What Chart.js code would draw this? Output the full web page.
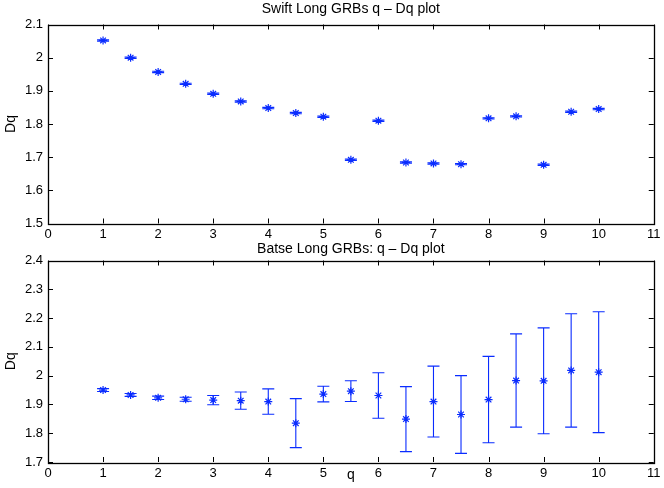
<!DOCTYPE html>
<html>
<head>
<meta charset="utf-8">
<script src="https://cdn.jsdelivr.net/npm/chart.js@4/dist/chart.umd.min.js"></script>
<style>
  body { margin: 0; background: #fff; }
  #wrap { position: relative; width: 664px; height: 488px; }
  canvas { position: absolute; left: 0; }
</style>
</head>
<body>
<div id="wrap">
  <canvas id="swift" width="664" height="244" style="top:0;width:664px;height:244px"></canvas>
  <canvas id="batse" width="664" height="248" style="top:240px;width:664px;height:248px"></canvas>
</div>
<script>
const qValues = [1, 1.5, 2, 2.5, 3, 3.5, 4, 4.5, 5, 5.5, 6, 6.5, 7, 7.5, 8, 8.5, 9, 9.5, 10];

// Swift: Dq and (very small) errors
const swiftDq  = [2.052, 2.000, 1.957, 1.921, 1.891, 1.868, 1.848, 1.833, 1.822, 1.692,
                  1.810, 1.684, 1.681, 1.679, 1.817, 1.823, 1.677, 1.837, 1.845];
const swiftErr = [0.002, 0.002, 0.002, 0.002, 0.002, 0.002, 0.002, 0.002, 0.002, 0.002,
                  0.002, 0.002, 0.002, 0.002, 0.002, 0.002, 0.002, 0.002, 0.002];

// Batse: Dq and errors
const batseDq  = [1.950, 1.933, 1.923, 1.918, 1.915, 1.913, 1.910, 1.835, 1.936, 1.946,
                  1.931, 1.849, 1.910, 1.865, 1.917, 1.983, 1.982, 2.018, 2.012];
const batseErr = [0.005, 0.005, 0.006, 0.007, 0.016, 0.030, 0.044, 0.085, 0.027, 0.036,
                  0.079, 0.113, 0.123, 0.135, 0.150, 0.162, 0.184, 0.197, 0.210];

const xTicks = [0, 1, 2, 3, 4, 5, 6, 7, 8, 9, 10, 11];
const swiftYTicks = [1.5, 1.6, 1.7, 1.8, 1.9, 2.0, 2.1];
const batseYTicks = [1.7, 1.8, 1.9, 2.0, 2.1, 2.2, 2.3, 2.4];

const BLUE = "#0a2cff";
const FONT = "'Liberation Sans', Arial, sans-serif";

// vertical error bars with caps, drawn under the markers
const errorBars = {
  id: "errorBars",
  beforeDatasetsDraw(chart) {
    const ctx = chart.ctx;
    const y = chart.scales.y;
    chart.data.datasets.forEach((ds, i) => {
      const meta = chart.getDatasetMeta(i);
      ctx.save();
      ctx.strokeStyle = BLUE;
      ctx.lineWidth = 1.1;
      meta.data.forEach((pt, j) => {
        const v = ds.data[j].y;
        const e = ds.errors[j];
        const x = pt.x;
        const top = y.getPixelForValue(v + e);
        const bot = y.getPixelForValue(v - e);
        ctx.beginPath();
        ctx.moveTo(x, top);
        ctx.lineTo(x, bot);
        ctx.moveTo(x - 6, top);
        ctx.lineTo(x + 6, top);
        ctx.moveTo(x - 6, bot);
        ctx.lineTo(x + 6, bot);
        ctx.stroke();
      });
      ctx.restore();
    });
  }
};

// matlab style box with inward ticks on all sides
const frame = {
  id: "frame",
  afterDraw(chart) {
    const { ctx, chartArea: a } = chart;
    const xs = chart.scales.x, ys = chart.scales.y;
    ctx.save();
    ctx.strokeStyle = "#000";
    ctx.lineWidth = 1;
    ctx.beginPath();
    xs.ticks.forEach((t) => {
      const px = Math.round(xs.getPixelForValue(t.value)) + 0.5;
      ctx.moveTo(px, a.bottom);
      ctx.lineTo(px, a.bottom - 5);
      ctx.moveTo(px, a.top);
      ctx.lineTo(px, a.top + 5);
    });
    ys.ticks.forEach((t) => {
      const py = Math.round(ys.getPixelForValue(t.value)) + 0.5;
      ctx.moveTo(a.left, py);
      ctx.lineTo(a.left + 5, py);
      ctx.moveTo(a.right, py);
      ctx.lineTo(a.right - 5, py);
    });
    ctx.stroke();
    ctx.lineWidth = 1.3;
    ctx.strokeRect(Math.round(a.left) + 0.5, Math.round(a.top) + 0.5,
                   Math.round(a.right - a.left), Math.round(a.bottom - a.top));
    ctx.restore();
  }
};

function makeChart(canvas, title, dq, err, yTicks, opts) {
  return new Chart(canvas, {
    type: "scatter",
    data: {
      datasets: [{
        data: qValues.map((q, i) => ({ x: q, y: dq[i] })),
        errors: err,
        pointStyle: "star",
        pointRadius: 4,
        pointHoverRadius: 4,
        borderColor: BLUE,
        backgroundColor: BLUE,
        borderWidth: 1.2,
      }],
    },
    options: {
      responsive: false,
      animation: false,
      layout: { padding: { left: 0, right: 6, top: 0, bottom: opts.bottomPad } },
      plugins: {
        legend: { display: false },
        tooltip: { enabled: false },
        title: {
          display: true,
          text: title,
          fullSize: false,
          color: "#000",
          font: { family: FONT, size: 14, weight: "normal" },
          padding: opts.titlePadding,
        },
      },
      scales: {
        x: {
          type: "linear",
          min: 0,
          max: 11,
          grid: { display: false, drawTicks: false },
          border: { display: false },
          afterBuildTicks: (s) => { s.ticks = xTicks.map((v) => ({ value: v })); },
          afterFit: (s) => { s.height = opts.xHeight; },
          ticks: { color: "#000", padding: 3.5, maxRotation: 0, font: { family: FONT, size: 13 } },
          title: {
            display: opts.xTitle,
            text: "q",
            color: "#000",
            padding: 0,
            font: { family: FONT, size: 14 },
          },
        },
        y: {
          min: yTicks[0],
          max: yTicks[yTicks.length - 1],
          grid: { display: false, drawTicks: false },
          border: { display: false },
          afterBuildTicks: (s) => { s.ticks = yTicks.map((v) => ({ value: v })); },
          afterFit: (s) => { s.width = 48; },
          ticks: {
            color: "#000",
            padding: 5,
            font: { family: FONT, size: 13 },
            callback: (v) => String(Math.round(v * 10) / 10),
          },
          title: {
            display: true,
            text: "Dq",
            color: "#000",
            padding: { top: 3, bottom: 0 },
            font: { family: FONT, size: 14 },
          },
        },
      },
    },
    plugins: [errorBars, frame],
  });
}

makeChart(document.getElementById("swift"), "Swift Long GRBs q \u2013 Dq plot",
  swiftDq, swiftErr, swiftYTicks,
  { titlePadding: { top: 1.1, bottom: 6.6 }, xHeight: 20.5, xTitle: false, bottomPad: 0 });

makeChart(document.getElementById("batse"), "Batse Long GRBs: q \u2013 Dq plot",
  batseDq, batseErr, batseYTicks,
  { titlePadding: { top: 0.9, bottom: 2.8 }, xHeight: 22, xTitle: true, bottomPad: 4 });
</script>
</body>
</html>
